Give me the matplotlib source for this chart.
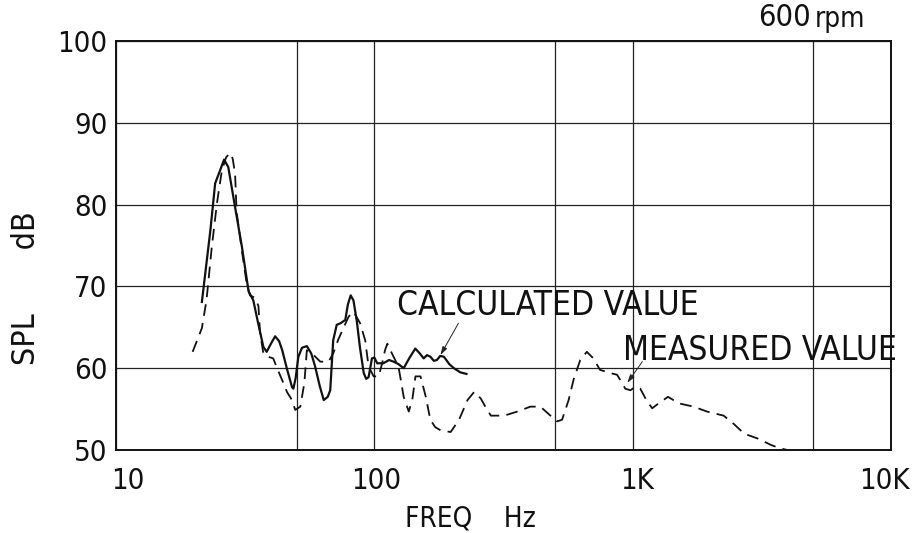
import matplotlib
matplotlib.use("Agg")
import matplotlib.pyplot as plt
import matplotlib.transforms as mtrans
from matplotlib.ticker import FixedLocator, NullFormatter

W, H = 918, 533

# ---- data ----
calc_freq = [21.5, 23.2, 24.2, 25.3, 26.2, 27.2, 28.9, 30.7, 32.6, 34.0, 35.5, 37.2,
             38.3, 39.8, 41.3, 42.8, 44.0, 46.0, 48.0, 48.6, 49.6, 50.8, 52.5, 54.8,
             57.0, 59.0, 61.5, 63.7, 66.0, 67.5, 69.3, 71.5, 74.0, 77.2, 79.0, 81.0,
             83.0, 85.5, 88.0, 91.0, 93.0, 95.0, 97.9, 100.0, 102.6, 108.4, 114.0,
             118.7, 124.0, 129.9, 137.0, 144.1, 150.0, 155.2, 160.0, 164.8, 170.0,
             174.6, 180.0, 186.0, 195.0, 203.3, 215.0, 227.3]
calc_db = [68.1, 76.9, 82.6, 84.2, 85.5, 84.6, 79.7, 74.9, 69.4, 68.3, 65.5, 62.6,
           62.0, 63.0, 63.9, 63.3, 62.2, 59.8, 57.7, 57.5, 58.8, 61.4, 62.5, 62.7,
           61.8, 60.2, 57.8, 56.1, 56.5, 57.3, 63.4, 65.3, 65.5, 65.9, 67.8, 68.9,
           68.3, 65.8, 62.5, 59.4, 58.7, 58.9, 61.2, 61.3, 60.6, 60.6, 61.0,
           60.8, 60.5, 60.0, 61.3, 62.4, 61.8, 61.2, 61.6, 61.4, 60.9,
           61.0, 61.5, 61.4, 60.5, 60.0, 59.5, 59.3]

meas_freq = [19.8, 21.5, 22.4, 23.5, 24.6, 25.7, 26.7, 27.7, 28.3, 28.9, 29.3, 30.7,
             32.0, 33.0, 34.5, 35.6, 36.1, 37.2, 38.8, 40.6, 42.3, 43.9, 45.9, 48.0,
             49.4, 51.7, 53.6, 54.8, 56.5, 58.2, 61.8, 66.5, 69.3, 72.5, 75.9, 79.5,
             83.1, 88.1, 92.2, 95.0, 99.4, 103.9, 107.2, 110.0, 112.3, 117.0, 124.0,
             129.9, 135.9, 140.2, 144.3, 150.9, 158.2, 164.7, 172.0, 180.6, 197.5,
             212.8, 229.4, 243.5, 258.2, 270.0, 282.6, 318.4, 357.7, 401.8, 439.5,
             480.5, 510.0, 533.0, 565.0, 590.6, 626.7, 664.5, 704.7, 747.3, 820.0,
             870.0, 910.0, 936.0, 980.0, 1020.0, 1070.0, 1130.0, 1190.0, 1260.0,
             1370.0, 1510.0, 1720.0, 1940.0, 2250.0, 2460.0, 2700.0, 3050.0,
             3440.0, 3730.0, 3970.0]
meas_db = [62.0, 64.9, 68.3, 74.9, 80.2, 84.2, 85.8, 86.3, 85.6, 83.8, 79.1, 74.4,
           70.5, 68.9, 68.6, 67.6, 64.3, 61.8, 61.4, 61.2, 59.8, 58.6, 57.1, 56.1,
           54.9, 55.3, 58.2, 62.2, 62.0, 61.6, 60.8, 60.8, 61.8, 63.5, 64.9, 66.3,
           66.9, 65.5, 63.4, 60.2, 59.0, 59.0, 60.6, 62.2, 63.0, 61.8, 60.2,
           56.5, 54.7, 56.1, 59.0, 59.0, 56.5, 53.7, 52.8, 52.4, 52.2,
           53.7, 56.1, 57.1, 56.3, 55.2, 54.2, 54.2, 54.7, 55.3, 55.3,
           54.2, 53.5, 53.7, 56.1, 58.6, 61.0, 62.0, 61.2, 59.8, 59.4,
           59.2, 58.2, 57.5, 57.3, 57.7, 57.5, 56.1, 55.1, 55.7,
           56.5, 55.7, 55.3, 54.7, 54.2, 53.2, 52.0, 51.4,
           50.6, 50.2, 50.0]

x_major = [10, 100, 1000, 10000]
x_labels = ["10", "100", "1K", "10K"]
x_minor = [50, 500, 5000]
y_ticks = [50, 60, 70, 80, 90, 100]

FONT = dict(family="DejaVu Sans", fontstretch="condensed", fontweight="light")
INK = "#111111"

fig = plt.figure(figsize=(W / 100, H / 100), dpi=100)
fig.patch.set_facecolor("white")
L, R, T, B = 116, 891, 41, 450
ax = fig.add_axes([L / W, 1 - B / H, (R - L) / W, (B - T) / H])
ax.set_xscale("log")
ax.set_xlim(10, 10000)
ax.set_ylim(50, 100)

ax.xaxis.set_major_locator(FixedLocator(x_major))
ax.set_xticklabels(x_labels)
ax.xaxis.set_minor_locator(FixedLocator(x_minor))
ax.xaxis.set_minor_formatter(NullFormatter())
ax.set_yticks(y_ticks)
ax.tick_params(which="both", length=0)
ax.tick_params(axis="x", pad=12)
ax.tick_params(axis="y", pad=6)
for lab in ax.get_xticklabels() + ax.get_yticklabels():
    lab.set_fontsize(21)
    lab.set_fontstretch("condensed")
    lab.set_fontweight("light")
    lab.set_color(INK)
xl = ax.get_xticklabels()
offsets = [12, 2, 4, -7]
for lab, dx in zip(xl, offsets):
    lab.set_transform(lab.get_transform() +
                      mtrans.ScaledTranslation(dx / 100, 0, fig.dpi_scale_trans))

ax.grid(True, which="both", color="#222222", linewidth=0.9)
ax.set_axisbelow(True)
for s in ax.spines.values():
    s.set_linewidth(1.4)
    s.set_color(INK)

ax.plot(calc_freq, calc_db, color=INK, linewidth=1.6, solid_joinstyle="round")
ax.plot(meas_freq, meas_db, color=INK, linewidth=1.3, linestyle=(0, (6.5, 4)))

arrow = dict(arrowstyle="-|>,head_length=0.5,head_width=0.15", color="#222222",
             linewidth=0.7, shrinkA=0, shrinkB=0)
ax.annotate("", xy=(180.3, 61.6), xytext=(211.6, 65.5), arrowprops=arrow)
ax.annotate("", xy=(953, 58.2), xytext=(1090, 60.8), arrowprops=arrow)
ax.text(122.7, 67.7, "CALCULATED VALUE", fontsize=24, va="center", ha="left",
        color=INK, **FONT)
ax.text(914, 62.2, "MEASURED VALUE", fontsize=24, va="center", ha="left",
        color=INK, clip_on=False, **FONT)

fig.text(27 / W, 1 - 288 / H, "SPL       dB", rotation=90, fontsize=23, va="center",
         ha="center", color=INK, **FONT)
fig.text(470 / W, 1 - 518 / H, "FREQ    Hz", fontsize=20, va="center",
         ha="center", color=INK, **FONT)
fig.text(811 / W, 1 - 18 / H, "600", fontsize=22, va="center", ha="right",
         color=INK, **FONT)
fig.text(815 / W, 1 - 19 / H, "rpm", fontsize=20, va="center", ha="left",
         color=INK, **FONT)

fig.savefig("out.png", dpi=100, facecolor="white")
